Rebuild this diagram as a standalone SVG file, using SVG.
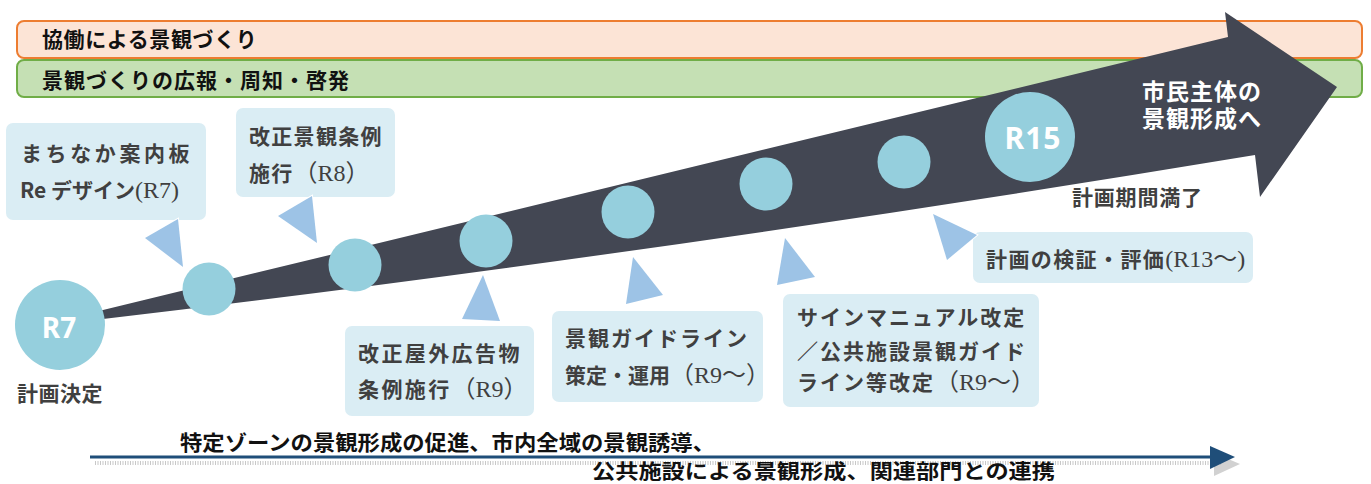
<svg xmlns="http://www.w3.org/2000/svg" width="1371" height="484" viewBox="0 0 1371 484">
<style>
.jp{font-family:"Noto Sans CJK JP","Noto Sans",sans-serif;font-weight:700}
.bar{font-size:21px;fill:#111}
.cl{font-size:21px;fill:#404040}
.ser{font-family:"Liberation Serif","Noto Sans CJK JP",serif;font-weight:400;font-size:24px}
.box{fill:#DAEDF4}
.ptr{fill:#9DC3E6;stroke:#fff;stroke-width:2;paint-order:stroke}
.dot{fill:#95CFDD}
.big{font-family:"Noto Sans","Open Sans",sans-serif;font-weight:700;fill:#fff;text-anchor:middle}
</style>
<rect width="1371" height="484" fill="#fff"/>
<g id="band-kyodo">
<rect x="17" y="21" width="1345" height="37" rx="7" fill="#FCE4D6" stroke="#ED7D31" stroke-width="2"/>
<text class="jp bar" x="42" y="47" letter-spacing="0.6">協働による景観づくり</text>
</g>
<g id="band-koho">
<rect x="17" y="60" width="1345" height="37" rx="7" fill="#C5E0B4" stroke="#70AD47" stroke-width="2"/>
<text class="jp bar" x="42" y="88" letter-spacing="1">景観づくりの広報・周知・啓発</text>
</g>
<g id="connectors">
<path id="main-arrow" d="M40 326 L103 310 L1228 37 L1225 12 L1337 87 L1260 197 L1255 155 Q650 255 103 319 Z" fill="#434753"/>
<line x1="95" y1="463" x2="1222" y2="463" stroke="#c8c8c8" stroke-width="4" stroke-dasharray="1 1.5"/>
<polygon points="1214,453 1240,464 1214,476" fill="#bdbdbd" opacity="0.7"/>
<line x1="90" y1="457" x2="1212" y2="457" stroke="#1F4E79" stroke-width="3"/>
<polygon points="1210,446 1235,457 1210,469" fill="#1F4E79"/>
</g>
<g id="goal-label">
<text class="jp" font-size="23" fill="#fff" letter-spacing="1"><tspan x="1142" y="100">市民主体の</tspan><tspan x="1142" y="127">景観形成へ</tspan></text>
</g>
<g id="node-r7">
<circle class="dot" cx="60" cy="325" r="45"/>
<text class="big" x="59" y="338" font-size="28">R7</text>
<text class="jp cl" x="17" y="401" letter-spacing="0.5">計画決定</text>
</g>
<g id="node-c2"><circle class="dot" cx="209" cy="289" r="26.5"/></g>
<g id="node-c3"><circle class="dot" cx="355" cy="265" r="26.5"/></g>
<g id="node-c4"><circle class="dot" cx="486" cy="241" r="26.5"/></g>
<g id="node-c5"><circle class="dot" cx="628" cy="212" r="26.5"/></g>
<g id="node-c6"><circle class="dot" cx="766" cy="184" r="26.5"/></g>
<g id="node-c7"><circle class="dot" cx="904" cy="162" r="26.5"/></g>
<g id="node-r15">
<circle class="dot" cx="1030" cy="137" r="45"/>
<text class="big" x="1033" y="149" font-size="30" letter-spacing="1">R15</text>
<text class="jp cl" x="1072" y="205" letter-spacing="0.8">計画期間満了</text>
</g>
<g id="callout-annai">
<rect class="box" x="6" y="123" width="200" height="97" rx="7"/>
<polygon class="ptr" points="145,238 178,219 183,267"/>
<text class="jp cl" x="21" y="161" letter-spacing="3.6">まちなか案内板</text>
<text class="jp cl" x="20" y="198">Re デザイン<tspan class="ser">(R7)</tspan></text>
</g>
<g id="callout-jorei">
<rect class="box" x="236" y="108" width="159" height="89" rx="7"/>
<polygon class="ptr" points="278,216 312,196 317,243"/>
<text class="jp cl" x="249" y="144" letter-spacing="1.3">改正景観条例</text>
<text class="jp cl" x="249" y="181" letter-spacing="1.3">施行<tspan class="ser" letter-spacing="0">（R8）</tspan></text>
</g>
<g id="callout-okugai">
<rect class="box" x="345" y="326" width="189" height="90" rx="7"/>
<polygon class="ptr" points="483,275 462,319 500,321"/>
<text class="jp cl" x="358" y="361" letter-spacing="2.4">改正屋外広告物</text>
<text class="jp cl" x="358" y="397" letter-spacing="2.4">条例施行<tspan class="ser" letter-spacing="0">（R9）</tspan></text>
</g>
<g id="callout-guideline">
<rect class="box" x="552" y="311" width="211" height="91" rx="7"/>
<polygon class="ptr" points="633,257 626,304 663,295"/>
<text class="jp cl" x="565" y="346" letter-spacing="2">景観ガイドライン</text>
<text class="jp cl" x="565" y="383">策定・運用<tspan class="ser">（R9～）</tspan></text>
</g>
<g id="callout-sign">
<rect class="box" x="783" y="294" width="256" height="113" rx="7"/>
<polygon class="ptr" points="785,238 777,285 815,277"/>
<text class="jp cl" x="797" y="325" letter-spacing="2">サインマニュアル改定</text>
<text class="jp cl" x="797" y="359" letter-spacing="2">／公共施設景観ガイド</text>
<text class="jp cl" x="797" y="390" letter-spacing="2">ライン等改定<tspan class="ser" letter-spacing="0">（R9～）</tspan></text>
</g>
<g id="callout-kensho">
<rect class="box" x="973" y="232" width="280" height="51" rx="7"/>
<polygon class="ptr" points="933,214 977,235 947,260"/>
<text class="jp cl" x="986" y="267" letter-spacing="1.4">計画の検証・評価<tspan class="ser" letter-spacing="0">(R13～)</tspan></text>
</g>
<g id="bottom-labels">
<text class="jp" x="180" y="450" font-size="21" fill="#111" textLength="535" lengthAdjust="spacingAndGlyphs">特定ゾーンの景観形成の促進、市内全域の景観誘導、</text>
<text class="jp" x="592" y="479" font-size="20" fill="#111" textLength="463" lengthAdjust="spacingAndGlyphs">公共施設による景観形成、関連部門との連携</text>
</g>
</svg>
